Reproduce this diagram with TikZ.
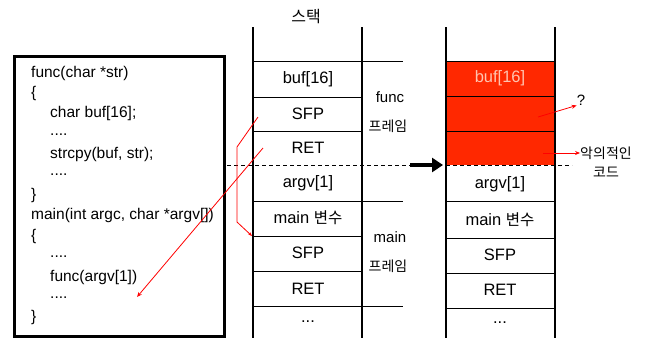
\documentclass[tikz,border=0pt]{standalone}
\usepackage{fontspec}
\setmainfont{Liberation Sans}
\newfontfamily\kr{Noto Sans CJK KR}
\usetikzlibrary{arrows.meta}
\definecolor{hot}{RGB}{255,40,0}
\definecolor{pale}{RGB}{255,195,175}
\begin{document}
\begin{tikzpicture}[x=1pt,y=-1pt,
  wall/.style={line width=1.6pt},
  row/.style={line width=0.9pt},
  cell/.style={font=\fontsize{16.5}{18}\selectfont, inner sep=0pt, anchor=center},
  lbl/.style={font=\fontsize{15}{17}\selectfont, inner sep=0pt, anchor=center},
  krl/.style={font=\kr\fontsize{14}{16}\selectfont, inner sep=0pt, anchor=center},
  code/.style={font=\fontsize{15.5}{17}\selectfont, inner sep=0pt, anchor=west},
  redline/.style={draw=red, line width=0.8pt},
  redarrow/.style={draw=red, line width=0.8pt, -{Stealth[length=5pt,width=4pt]}}]
\useasboundingbox (0,0) rectangle (645,338);
% ---------- code box
\node[draw, line width=2.5pt, minimum width=210pt, minimum height=280pt, anchor=north west, inner sep=0pt] (box) at (13,55) {};
\node[code] (c0) at (31,73) {func(char *str)};
\node[code] (c1) at (31,93.4) {\{};
\node[code] (c2) at (50,113.8) {char buf[16];};
\node[code] (c3) at (50,134.2) {....};
\node[code] (c4) at (50,154.6) {strcpy(buf, str);};
\node[code] (c5) at (50,175) {....};
\node[code] (c6) at (31,195.4) {\}};
\node[code] (c7) at (31,215.8) {main(int argc, char *argv[])};
\node[code] (c8) at (31,236.2) {\{};
\node[code] (c9) at (50,256.6) {....};
\node[code] (c10) at (50,277) {func(argv[1])};
\node[code] (c11) at (50,297.4) {....};
\node[code] (c12) at (31,317.8) {\}};
% ---------- middle stack
\node[krl, font=\kr\fontsize{16}{18}\selectfont] (t1) at (306,17) {스택};
\draw[wall] (253,27) -- (253,338);
\draw[wall] (362,27) -- (362,338);
\draw[row] (253,61) -- (403,61);
\draw[row] (253,97) -- (362,97);
\draw[row] (253,131) -- (362,131);
\draw[row] (253,201) -- (403,201);
\draw[row] (253,236) -- (362,236);
\draw[row] (253,271) -- (362,271);
\draw[row] (253,306) -- (403,306);
\node[cell] (a1) at (308,79) {buf[16]};
\node[cell] (a2) at (308,114) {SFP};
\node[cell] (a3) at (308,148) {RET};
\node[cell] (a4) at (308,183) {argv[1]};
\node[cell] (a5) at (308,218) {main {\kr\fontsize{15.5}{18}\selectfont 변수}};
\node[cell] (a6) at (308,253) {SFP};
\node[cell] (a7) at (308,289) {RET};
\node[cell] (a8) at (308,322) {...};
\node[lbl] (f1) at (390,97) {func};
\node[krl] (f2) at (388,126) {프레임};
\node[lbl] (g1) at (390,237) {main};
\node[krl] (g2) at (388,266) {프레임};
% ---------- right stack
\fill[hot] (446,61) rectangle (555,165);
\draw[wall] (446,27) -- (446,338);
\draw[wall] (555,27) -- (555,338);
\draw[row] (446,61) -- (555,61);
\draw[row] (446,96) -- (555,96);
\draw[row] (446,131) -- (555,131);
\draw[row] (446,201) -- (555,201);
\draw[row] (446,238) -- (555,238);
\draw[row] (446,273) -- (555,273);
\draw[row] (446,308) -- (555,308);
\node[cell, text=pale] (b1) at (500,78) {buf[16]};
\node[cell] (b4) at (500,184) {argv[1]};
\node[cell] (b5) at (500,220) {main {\kr\fontsize{15.5}{18}\selectfont 변수}};
\node[cell] (b6) at (500,255) {SFP};
\node[cell] (b7) at (500,290) {RET};
\node[cell] (b8) at (500,323) {...};
% dashed boundary and big arrow
\coordinate (d0) at (227,165);
\coordinate (d1) at (410,165);
\coordinate (d2) at (443,165);
\coordinate (d3) at (446,165);
\coordinate (d4) at (572,165);
\draw[line width=0.9pt, dash pattern=on 4pt off 3pt] (d0) -- (d1);
\draw[line width=0.9pt, dash pattern=on 4pt off 3pt] (d3) -- (d4);
\draw[line width=3.5pt, -{Triangle[length=11pt,width=14pt]}] (d1) -- (d2);
% right labels
\node[lbl] (q) at (581,100) {?};
\node[krl] (k1) at (606,153) {악의적인};
\node[krl] (k2) at (606,172) {코드};
\coordinate (r1) at (538,117);
\coordinate (r2) at (543,153);
\draw[redarrow] (r1) -- (q.south west);
\draw[redarrow] (r2) -- (k1.west);
% red lines on the left
\coordinate (p0) at (258,117);
\coordinate (p1) at (237,147);
\coordinate (p2) at (237,222);
\coordinate (p3) at (252,236);
\draw[redline, -{Stealth[length=4pt,width=3pt]}] (p0) -- (p1) -- (p2) -- (p3);
\coordinate (s0) at (263,148);
\coordinate (s1) at (137,297);
\draw[redarrow] (s0) -- (s1);
\end{tikzpicture}
\end{document}
